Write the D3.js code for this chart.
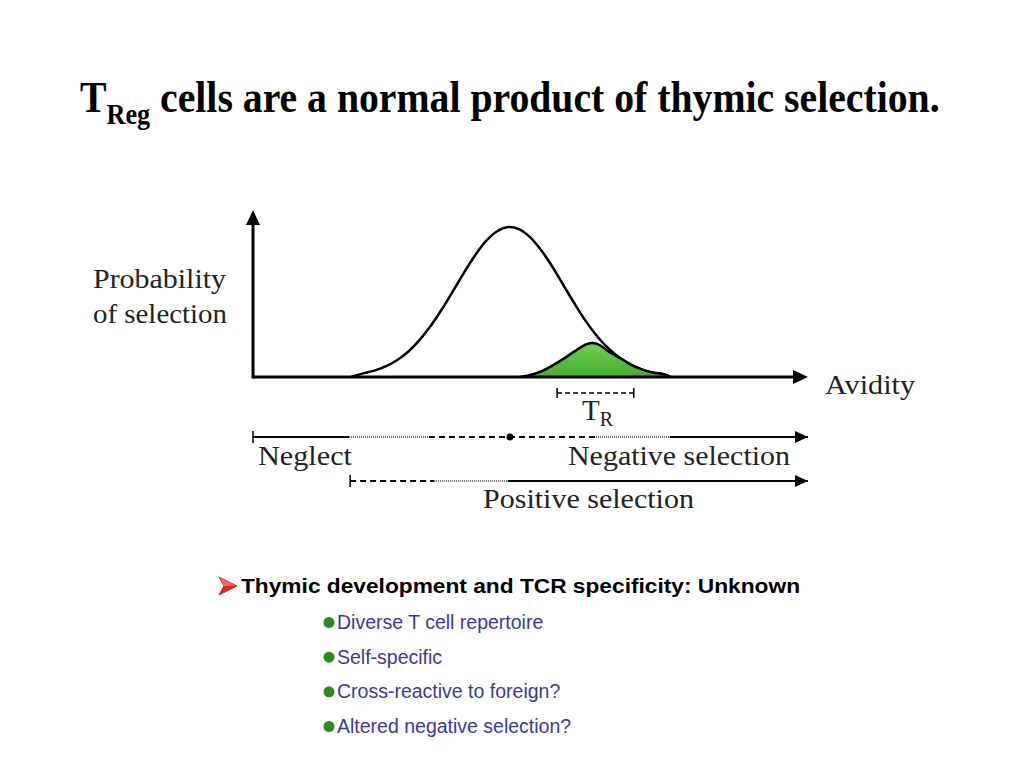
<!DOCTYPE html>
<html>
<head>
<meta charset="utf-8">
<script src="https://cdn.jsdelivr.net/npm/d3@7/dist/d3.min.js"></script>
<style>
  html, body { margin: 0; padding: 0; background: #ffffff; }
  svg { display: block; }
</style>
</head>
<body>
<svg id="chart" width="1024" height="768"></svg>
<script>
// ---------- DATA ----------
// Avidity (arbitrary units 0-100) and probability of selection (0-1)
const avidityAll = [17.7, 20, 22, 24, 26, 28, 30, 32, 34, 36, 38, 40, 42, 44, 46, 48, 50, 52, 54, 56, 58, 60, 62, 64, 66, 68, 70, 72, 74, 75.2];
const probAll    = [0, 0.023, 0.040, 0.065, 0.102, 0.153, 0.221, 0.305, 0.404, 0.513, 0.624, 0.728, 0.815, 0.873, 0.898, 0.884, 0.835, 0.756, 0.657, 0.546, 0.436, 0.333, 0.244, 0.172, 0.116, 0.075, 0.046, 0.027, 0.016, 0];

const avidityTR = [48, 50, 52, 54, 56, 58, 60, 61, 62, 63, 64, 65, 66, 68, 70, 72, 74, 75.2];
const probTR    = [0, 0.012, 0.035, 0.07, 0.11, 0.155, 0.195, 0.204, 0.198, 0.18, 0.155, 0.135, 0.116, 0.075, 0.046, 0.027, 0.016, 0];

// Range bracket for T_R (avidity)
const trRange = [54.8, 68.6];

// Selection bars: segments [from, to, style] in avidity units
const negativeSegments = [[0, 17.3, "solid"], [17.3, 31.7, "dotted"], [31.7, 61.8, "dashed"], [61.8, 75.1, "dotted"], [75.1, 100, "solid"]];
const negativeDot = 46.3;
const positiveSegments = [[17.5, 32.6, "dashed"], [32.6, 45.9, "dotted"], [45.9, 100, "solid"]];

const titleMain = "T";
const titleSub = "Reg";
const titleRest = " cells are a normal product of thymic selection.";
const yLabelLines = ["Probability", "of selection"];
const xLabel = "Avidity";
const bulletHeading = "Thymic development and TCR specificity: Unknown";
const subBullets = ["Diverse T cell repertoire", "Self-specific", "Cross-reactive to foreign?", "Altered negative selection?"];

// ---------- DRAW ----------
const svg = d3.select("#chart");
const serif = "'Liberation Serif', 'Times New Roman', serif";
const sans = "'Liberation Sans', Arial, sans-serif";

const x = d3.scaleLinear().domain([0, 100]).range([253, 808]);
const y = d3.scaleLinear().domain([0, 1]).range([377, 210]);

// Title
const title = svg.append("text")
  .attr("x", 0).attr("y", 0)
  .attr("font-family", serif).attr("font-weight", "bold")
  .attr("font-size", 44).attr("fill", "#000");
title.append("tspan").text(titleMain);
title.append("tspan").attr("font-size", 29).attr("dy", 12).text(titleSub);
title.append("tspan").attr("dy", -12).text(titleRest);
const tw = title.node().getComputedTextLength();
title.attr("transform", `translate(80,112) scale(${860 / tw},1)`);

// Gradient for green area
const defs = svg.append("defs");
const grad = defs.append("linearGradient").attr("id", "greenGrad")
  .attr("x1", 0).attr("y1", 0).attr("x2", 0).attr("y2", 1);
grad.append("stop").attr("offset", "0%").attr("stop-color", "#74cc58");
grad.append("stop").attr("offset", "100%").attr("stop-color", "#45ad30");

// Main curve
const line = d3.line().x(d => x(d[0])).y(d => y(d[1])).curve(d3.curveCatmullRom.alpha(0.5));
const allPts = avidityAll.map((a, i) => [a, probAll[i]]);
svg.append("path").attr("d", line(allPts))
  .attr("fill", "none").attr("stroke", "#000").attr("stroke-width", 2.5);

// T_R area
const trPts = avidityTR.map((a, i) => [a, probTR[i]]);
const area = d3.area().x(d => x(d[0])).y0(y(0)).y1(d => y(d[1])).curve(d3.curveCatmullRom.alpha(0.5));
svg.append("path").attr("d", area(trPts)).attr("fill", "url(#greenGrad)").attr("stroke", "none");
svg.append("path").attr("d", line(trPts))
  .attr("fill", "none").attr("stroke", "#000").attr("stroke-width", 2.5);

// Axes
const x0 = x(0), y0 = y(0);
const xEnd = x.range()[1], yEnd = y.range()[1];
svg.append("line").attr("x1", x0).attr("y1", y0).attr("x2", xEnd - 10).attr("y2", y0)
  .attr("stroke", "#000").attr("stroke-width", 3);
svg.append("line").attr("x1", x0).attr("y1", y0 + 1.5).attr("x2", x0).attr("y2", yEnd + 10)
  .attr("stroke", "#000").attr("stroke-width", 3);
svg.append("path").attr("d", `M${xEnd},${y0} L${xEnd - 15},${y0 - 7} L${xEnd - 15},${y0 + 7} Z`).attr("fill", "#000");
svg.append("path").attr("d", `M${x0},${yEnd} L${x0 - 7},${yEnd + 15} L${x0 + 7},${yEnd + 15} Z`).attr("fill", "#000");

// helper: serif label stretched to the measured width of the reference
function label(txt, xx, yy, width, anchor) {
  return svg.append("text").attr("x", xx).attr("y", yy).attr("font-family", serif).attr("font-size", 28)
    .attr("fill", "#222").attr("text-anchor", anchor || "start")
    .attr("textLength", width).attr("lengthAdjust", "spacingAndGlyphs").text(txt);
}

// Axis labels
label(yLabelLines[0], 93, 288, 133);
label(yLabelLines[1], 93, 323, 134);
label(xLabel, 825, 394, 90);

// T_R bracket
const by = 393;
svg.append("line").attr("x1", x(trRange[0])).attr("x2", x(trRange[1])).attr("y1", by).attr("y2", by)
  .attr("stroke", "#000").attr("stroke-width", 1.5).attr("stroke-dasharray", "5,3");
trRange.forEach(v => svg.append("line").attr("x1", x(v)).attr("x2", x(v)).attr("y1", by - 5).attr("y2", by + 5)
  .attr("stroke", "#000").attr("stroke-width", 1.5));
const trText = svg.append("text").attr("x", 582).attr("y", 420).attr("font-family", serif)
  .attr("font-size", 29).attr("fill", "#222");
trText.append("tspan").text("T");
trText.append("tspan").attr("font-size", 20).attr("dy", 6).text("R");

// Selection bars
function drawSegments(segments, yy) {
  segments.forEach(s => {
    const l = svg.append("line").attr("x1", x(s[0])).attr("x2", x(s[1])).attr("y1", yy).attr("y2", yy)
      .attr("stroke", "#000");
    if (s[2] === "solid") l.attr("stroke-width", 2);
    else if (s[2] === "dashed") l.attr("stroke-width", 1.8).attr("stroke-dasharray", "6,4");
    else l.attr("stroke-width", 1.6).attr("stroke", "#444").attr("stroke-dasharray", "1,1");
  });
  const e = x(100);
  svg.append("path").attr("d", `M${e},${yy} L${e - 13},${yy - 6} L${e - 13},${yy + 6} Z`).attr("fill", "#000");
  const s0 = x(segments[0][0]);
  svg.append("line").attr("x1", s0).attr("x2", s0).attr("y1", yy - 6).attr("y2", yy + 6)
    .attr("stroke", "#000").attr("stroke-width", 1.5);
}
drawSegments(negativeSegments, 437);
svg.append("circle").attr("cx", x(negativeDot)).attr("cy", 437).attr("r", 3.5).attr("fill", "#000");
drawSegments(positiveSegments, 481);

label("Neglect", 258, 465, 94);
label("Negative selection", 568, 465, 222);
label("Positive selection", 483, 508, 211);

// Bullets
svg.append("path").attr("d", "M219,577 L237,586 L219,595 L224,586 Z")
  .attr("fill", "#e8251f").attr("stroke", "#b01010").attr("stroke-width", 0.8).attr("stroke-linejoin", "round");
svg.append("path").attr("d", "M219,577 L237,586 L224,586 Z").attr("fill", "#f5605a");
svg.append("text").attr("x", 241).attr("y", 593).attr("font-family", sans).attr("font-weight", "bold")
  .attr("font-size", 20).attr("fill", "#000").attr("textLength", 559).attr("lengthAdjust", "spacingAndGlyphs")
  .text(bulletHeading);

const subY = d3.scalePoint().domain(subBullets).range([629, 733]);
const sub = svg.append("g").selectAll("g").data(subBullets).join("g")
  .attr("transform", d => `translate(0,${subY(d)})`);
sub.append("circle").attr("cx", 329).attr("cy", -6.5).attr("r", 5.5).attr("fill", "#2a8a1c");
sub.append("text").attr("x", 337).attr("y", 0).attr("font-family", sans).attr("font-size", 19.5)
  .attr("fill", "#3a3a9a").text(d => d);
</script>
</body>
</html>
